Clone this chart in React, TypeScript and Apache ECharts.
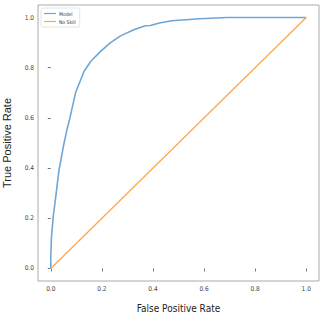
import React, { useEffect, useRef } from "react";
import * as echarts from "echarts";

const fpr = [0, 0, 0.003, 0.01, 0.02, 0.032, 0.05, 0.065, 0.075, 0.097, 0.13, 0.156, 0.195, 0.234, 0.273, 0.325, 0.37, 0.39, 0.425, 0.474, 0.584, 0.69, 0.85, 1.0];
const tpr = [0, 0.05, 0.13, 0.21, 0.29, 0.39, 0.49, 0.56, 0.6, 0.7, 0.785, 0.825, 0.865, 0.9, 0.927, 0.951, 0.967, 0.968, 0.978, 0.987, 0.995, 1.0, 1.0, 1.0];
const noSkillX = [0, 1];
const noSkillY = [0, 1];
const ticks = [0, 0.2, 0.4, 0.6, 0.8, 1.0];

const NARROW = '"DejaVu Sans Condensed", "Liberation Sans Narrow", "DejaVu Sans", sans-serif';

export default function App() {
  const ref = useRef<HTMLDivElement>(null);
  useEffect(() => {
    const chart = echarts.init(ref.current!, null, { renderer: "svg" });
    const axisCommon = {
      type: "value" as const,
      min: -0.05,
      max: 1.05,
      axisLine: { show: false },
      splitLine: { show: false },
      axisTick: { show: true, length: 3, customValues: ticks, lineStyle: { color: "#555", width: 0.8 } },
      axisLabel: {
        customValues: ticks,
        formatter: (v: number) => v.toFixed(1),
        fontSize: 6.5,
        color: "#444",
        fontFamily: NARROW,
        margin: 4,
      },
      nameLocation: "middle" as const,
    };
    chart.setOption({
      animation: false,
      backgroundColor: "#fff",
      grid: {
        left: 38, right: 4, top: 5, bottom: 35,
        show: true, borderColor: "#aaa", borderWidth: 1,
        containLabel: false, outerBoundsMode: "none",
      },
      legend: {
        orient: "vertical",
        left: 41,
        top: 8,
        icon: "rect",
        itemWidth: 12,
        itemHeight: 1.2,
        itemGap: 3,
        padding: [3, 4, 3, 3],
        backgroundColor: "#fff",
        borderColor: "#ddd",
        borderWidth: 0.8,
        borderRadius: 2,
        textStyle: { fontSize: 5, color: "#333", fontFamily: NARROW, padding: [0, 0, 0, -2] },
        data: ["Model", "No Skill"],
      },
      xAxis: {
        ...axisCommon,
        name: "False Positive Rate",
        nameGap: 22,
        nameTextStyle: { fontSize: 10, color: "#222", fontFamily: NARROW },
      },
      yAxis: {
        ...axisCommon,
        name: "True Positive Rate",
        nameGap: 26,
        nameTextStyle: { fontSize: 11, color: "#222", fontFamily: '"Liberation Sans", sans-serif' },
      },
      series: [
        {
          name: "Model",
          type: "line",
          showSymbol: false,
          symbol: "none",
          color: "#6ea6d6",
          lineStyle: { width: 1.6, color: "#6ea6d6" },
          data: fpr.map((x, i) => [x, tpr[i]]),
        },
        {
          name: "No Skill",
          type: "line",
          showSymbol: false,
          symbol: "none",
          color: "#ffa650",
          lineStyle: { width: 1.3, color: "#ffa650" },
          data: noSkillX.map((x, i) => [x, noSkillY[i]]),
        },
      ],
    });
    return () => chart.dispose();
  }, []);
  return <div ref={ref} style={{ width: 323, height: 316, position: "absolute", left: 0, top: 0 }} />;
}
